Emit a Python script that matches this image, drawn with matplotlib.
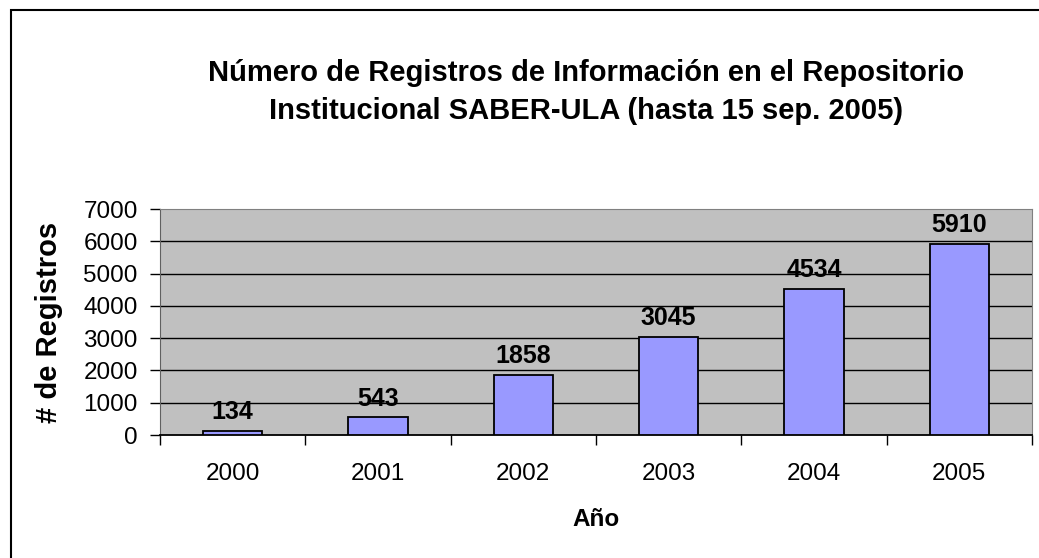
import matplotlib.pyplot as plt
from matplotlib.patches import Rectangle

years = ['2000', '2001', '2002', '2003', '2004', '2005']
registros = [134, 543, 1858, 3045, 4534, 5910]
yticks = [0, 1000, 2000, 3000, 4000, 5000, 6000, 7000]


def main():
    plt.rcParams['font.family'] = ['Liberation Sans', 'DejaVu Sans']

    fig = plt.figure(figsize=(10.39, 5.58), dpi=100)
    # outer chart frame (Excel style)
    fig.patches.append(Rectangle((11 / 1039, -0.05), 1.1, 1 - 10 / 558 + 0.05,
                                 transform=fig.transFigure, fill=False,
                                 edgecolor='black', linewidth=1.5))

    ax = fig.add_axes([160 / 1039, 1 - 435 / 558, 872 / 1039, 226 / 558])
    ax.set_facecolor('#C0C0C0')

    x = list(range(len(years)))
    ax.bar(x, registros, width=0.41, color='#9999FF', edgecolor='black',
           linewidth=1.3, zorder=3)
    for xi, v in zip(x, registros):
        ax.annotate(str(v), (xi, v), xytext=(0, 5), textcoords='offset points',
                    ha='center', va='bottom', fontsize=18, fontweight='bold',
                    zorder=4)

    ax.set_xlim(-0.5, len(years) - 0.5)
    ax.set_ylim(0, 7000)
    ax.set_yticks(yticks)
    ax.set_yticklabels([str(t) for t in yticks], fontsize=17.5)
    for t in yticks[1:-1]:
        ax.axhline(t, color='black', linewidth=1, zorder=1)

    ax.set_xticks(x)
    ax.set_xticklabels(years, fontsize=17.5)
    ax.tick_params(axis='x', which='major', length=0, pad=20)
    ax.set_xticks([i - 0.5 for i in range(len(years) + 1)], minor=True)
    ax.tick_params(axis='x', which='minor', length=7, width=1, direction='out')
    ax.tick_params(axis='y', length=7, width=1, direction='out', pad=9)

    for s in ['top', 'right']:
        ax.spines[s].set_color('#808080')
    ax.spines['left'].set_color('#606060')
    ax.spines['bottom'].set_color('black')
    ax.spines['bottom'].set_linewidth(1.3)

    ax.set_xlabel('Año', fontsize=17.5, fontweight='bold', labelpad=17)
    ax.set_ylabel('# de Registros', fontsize=21, fontweight='bold', labelpad=15)

    fig.text(586 / 1039, 1 - 92 / 558,
             'Número de Registros de Información en el Repositorio\n'
             'Institucional SABER-ULA (hasta 15 sep. 2005)',
             ha='center', va='center', fontsize=21, fontweight='bold',
             linespacing=1.45)

    fig.savefig('out.png', dpi=100)


if __name__ == "__main__":
    main()
